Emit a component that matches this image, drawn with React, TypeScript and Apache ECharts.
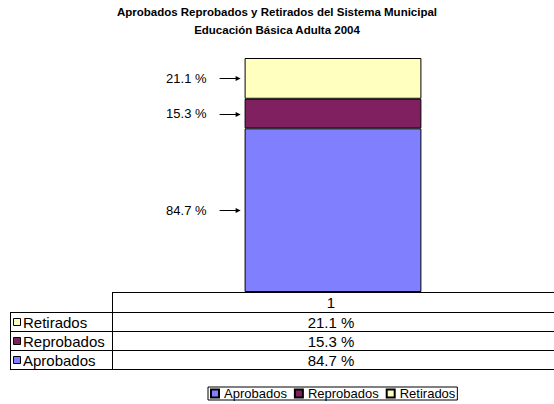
import React, { useEffect, useRef } from "react";
import * as echarts from "echarts";

// ---- data ----
const categories = ["1"];
const seriesNames = ["Aprobados", "Reprobados", "Retirados"];
const aprobados = [84.7];
const reprobados = [15.3];
const retirados = [21.1];
const titleLines = [
  "Aprobados Reprobados y Retirados del Sistema Municipal",
  "Educación Básica Adulta 2004",
];

// ---- layout / style ----
const W = 554;
const H = 404;
const FONT = "'Liberation Sans', Arial, sans-serif";
const COLORS = ["#8080FF", "#802060", "#FFFFC0"];
const GRID_LEFT = 112;
const GRID_TOP = 58;
const TABLE_TOP = 292;
const HEADER_H = 19.5;
const ROW_H = 19;
const TABLE_LEFT = 10;
const LABEL_SIZE = 13;
const TABLE_SIZE = 15;

const fmt = (v: number) => `${v.toFixed(1)} %`;

export default function App() {
  const ref = useRef<HTMLDivElement>(null);

  useEffect(() => {
    if (!ref.current) return;
    const chart = echarts.init(ref.current, null, { renderer: "svg" });
    const seriesValues = [aprobados, reprobados, retirados];
    const total = seriesValues.reduce((s, arr) => s + arr[0], 0);

    const series = seriesNames.map((name, i) => ({
      name,
      type: "bar",
      stack: "total",
      barWidth: "40%",
      data: seriesValues[i],
      itemStyle: { color: COLORS[i], borderColor: "#000", borderWidth: 1 },
      label: {
        show: true,
        position: "left",
        distance: 38,
        formatter: (p: any) => fmt(p.value),
        color: "#000",
        fontSize: LABEL_SIZE,
        fontFamily: FONT,
      },
    }));

    // ---- data table ----
    const colCenter = GRID_LEFT + (W - GRID_LEFT) / 2 - 2;
    const rowsOrder = [2, 1, 0]; // Retirados, Reprobados, Aprobados
    const bodyTop = TABLE_TOP + HEADER_H;
    const tableBottom = bodyTop + ROW_H * rowsOrder.length;
    const lineStyle = { stroke: "#000", lineWidth: 1 };
    const tableG: any[] = [];
    tableG.push({
      type: "line",
      shape: { x1: GRID_LEFT, y1: TABLE_TOP + 0.5, x2: W, y2: TABLE_TOP + 0.5 },
      style: lineStyle,
    });
    tableG.push({
      type: "line",
      shape: { x1: GRID_LEFT + 0.5, y1: TABLE_TOP, x2: GRID_LEFT + 0.5, y2: Math.round(tableBottom) + 1 },
      style: lineStyle,
    });
    tableG.push({
      type: "line",
      shape: { x1: TABLE_LEFT + 0.5, y1: Math.round(bodyTop), x2: TABLE_LEFT + 0.5, y2: Math.round(tableBottom) + 1 },
      style: lineStyle,
    });
    for (let r = 0; r <= rowsOrder.length; r++) {
      const y = Math.round(bodyTop + r * ROW_H) + 0.5;
      tableG.push({
        type: "line",
        shape: { x1: TABLE_LEFT, y1: y, x2: W, y2: y },
        style: lineStyle,
      });
    }
    tableG.push({
      type: "text",
      x: colCenter,
      y: TABLE_TOP + HEADER_H / 2 + 1,
      style: {
        text: categories[0],
        fill: "#000",
        font: `${TABLE_SIZE}px ${FONT}`,
        align: "center",
        verticalAlign: "middle",
      },
    });
    rowsOrder.forEach((si, r) => {
      const midY = bodyTop + r * ROW_H + ROW_H / 2 + 1;
      tableG.push({
        type: "rect",
        shape: { x: 13.5, y: Math.round(midY - 4) + 0.5, width: 7, height: 7 },
        style: { fill: COLORS[si], stroke: "#000", lineWidth: 1 },
      });
      tableG.push({
        type: "text",
        x: 23,
        y: midY,
        style: {
          text: seriesNames[si],
          fill: "#000",
          font: `${TABLE_SIZE}px ${FONT}`,
          align: "left",
          verticalAlign: "middle",
        },
      });
      tableG.push({
        type: "text",
        x: colCenter,
        y: midY,
        style: {
          text: fmt(seriesValues[si][0]),
          fill: "#000",
          font: `${TABLE_SIZE}px ${FONT}`,
          align: "center",
          verticalAlign: "middle",
        },
      });
    });

    const option: any = {
      animation: false,
      backgroundColor: "#fff",
      textStyle: { fontFamily: FONT },
      title: {
        text: titleLines.join("\n"),
        left: "center",
        top: 3,
        padding: 0,
        textStyle: {
          fontFamily: FONT,
          fontSize: 11.5,
          fontWeight: "bold",
          color: "#000",
          lineHeight: 18,
        },
      },
      legend: {
        data: seriesNames,
        left: 208,
        top: 387,
        icon: "rect",
        itemWidth: 8,
        itemHeight: 8,
        itemGap: 7,
        padding: [0, 2, 0, 2],
        borderColor: "#000",
        borderWidth: 1,
        textStyle: { fontFamily: FONT, fontSize: 13, color: "#000" },
      },
      grid: {
        left: GRID_LEFT,
        right: 0,
        top: GRID_TOP,
        bottom: H - TABLE_TOP,
        containLabel: false,
      },
      xAxis: {
        type: "category",
        data: categories,
        show: false,
      },
      yAxis: {
        type: "value",
        min: 0,
        max: total,
        show: false,
        splitLine: { show: false },
      },
      series,
      graphic: tableG,
    };
    chart.setOption(option);

    // arrows from labels to bar segments, positioned by the bar layout
    const arrows: any[] = [];
    seriesNames.forEach((_, s) => {
      const layout: any = (chart as any)
        .getModel()
        .getSeriesByIndex(s)
        .getData()
        .getItemLayout(0);
      if (!layout) return;
      const midY = Math.round(layout.y + layout.height / 2) + 0.5;
      const tipX = layout.x - 4;
      arrows.push({
        type: "line",
        shape: { x1: tipX - 21, y1: midY, x2: tipX - 3, y2: midY },
        style: { stroke: "#000", lineWidth: 1 },
      });
      arrows.push({
        type: "polygon",
        shape: {
          points: [
            [tipX, midY],
            [tipX - 5, midY - 2.5],
            [tipX - 5, midY + 2.5],
          ],
        },
        style: { fill: "#000" },
      });
    });
    chart.setOption({ graphic: [...tableG, ...arrows] });

    return () => chart.dispose();
  }, []);

  return (
    <div
      ref={ref}
      style={{ position: "fixed", left: 0, top: 0, width: W, height: H }}
    />
  );
}
